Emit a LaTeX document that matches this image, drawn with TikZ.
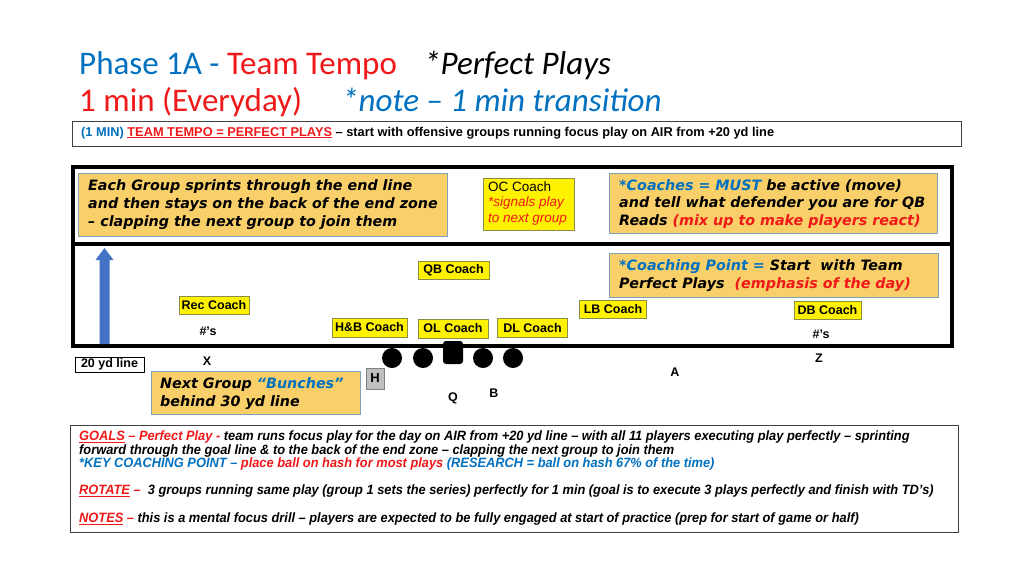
\documentclass[tikz,border=0pt]{standalone}
\usepackage{fontspec}
\setmainfont{Liberation Sans}
\newfontfamily\titlefont{Carlito}
\newfontfamily\heavyfont{DejaVu Sans}
\newfontfamily\narrowfont{Liberation Sans}[FakeStretch=0.95]
\definecolor{tblue}{HTML}{0070C0}
\definecolor{tred}{HTML}{F01818}
\definecolor{orfill}{HTML}{F9CF6A}
\definecolor{orline}{HTML}{7BA3B5}
\definecolor{ylline}{HTML}{8C8C4A}
\definecolor{arblue}{HTML}{4472C4}
\definecolor{boxgrey}{HTML}{404040}
\begin{document}
\begin{tikzpicture}[x=1pt,y=-1pt,
  txt/.style={inner sep=0pt, anchor=base west},
  ttl/.style={txt, font=\titlefont\fontsize{33}{40}\selectfont},
  heavy/.style={txt, font=\heavyfont\bfseries\itshape\fontsize{14.3}{17}\selectfont},
  narrow/.style={txt, font=\narrowfont\bfseries\itshape\fontsize{13.5}{14}\selectfont},
  lbl/.style={inner sep=0pt, font=\bfseries\fontsize{12.5}{14}\selectfont},
  coach/.style={draw=ylline, fill=yellow, line width=0.8pt, inner sep=0pt, minimum height=18pt, font=\bfseries\fontsize{12.5}{14}\selectfont},
  orbox/.style={draw=orline, fill=orfill, line width=0.9pt, anchor=north west, inner sep=0pt},
  fieldbox/.style={draw=black, line width=4pt, anchor=north west, inner sep=0pt},
  infobox/.style={draw=boxgrey, line width=1pt, anchor=north west, inner sep=0pt},
  player/.style={circle, fill=black, minimum size=20pt, inner sep=0pt}]
\useasboundingbox[fill=white] (0,0) rectangle (1024,576);

% Title
\node[ttl] (t1a) at (79,74) {\color{tblue}Phase 1A - \color{tred}Team Tempo};
\node[ttl] (t1b) at (424,74) {\itshape *Perfect Plays};
\node[ttl] (t2a) at (79,111) {\color{tred}1 min (Everyday)};
\node[ttl] (t2b) at (342,111) {\color{tblue}\itshape *note – 1 min transition};

% info box
\node[infobox, minimum width=889pt, minimum height=25pt] (info) at (72,121) {};
\node[txt, font=\bfseries\fontsize{12.8}{14}\selectfont] (infotxt) at (81,136)
  {\textcolor{tblue}{(1 MIN)} \textcolor{tred}{\underline{TEAM TEMPO = PERFECT PLAYS}} – start with offensive groups running focus play on AIR from +20 yd line};

% end zone and field
\node[fieldbox, minimum width=879pt, minimum height=77pt] (endzone) at (71,165) {};
\node[fieldbox, minimum width=879pt, minimum height=102pt] (field) at (71,242) {};

% arrow
\fill[arblue] (99.5,344) -- (99.5,260) -- (95.5,260) -- (104.5,248) -- (113.5,260) -- (109.5,260) -- (109.5,344) -- cycle;

% orange box 1
\node[orbox, minimum width=369pt, minimum height=63pt] (ob1) at (78,173) {};
\node[heavy] (ob1a) at (88,190.5) {Each Group sprints through the end line};
\node[heavy] (ob1b) at (88,208.5) {and then stays on the back of the end zone};
\node[heavy] (ob1c) at (88,226.5) {– clapping the next group to join them};

% OC coach
\node[draw=ylline, fill=yellow, line width=0.8pt, anchor=north west, minimum width=91pt, minimum height=52pt, inner sep=0pt] (oc) at (483,178) {};
\node[txt, font=\fontsize{13.5}{15}\selectfont] (oc1) at (488,191) {OC Coach};
\node[txt, font=\itshape\fontsize{13.5}{15}\selectfont, text=tred] (oc2) at (488,206.5) {*signals play};
\node[txt, font=\itshape\fontsize{13.5}{15}\selectfont, text=tred] (oc3) at (488,222) {to next group};

% orange box 2
\node[orbox, minimum width=328pt, minimum height=60pt] (ob2) at (609,173) {};
\node[heavy] (ob2a) at (619,190) {\textcolor{tblue}{*Coaches = MUST} be active (move)};
\node[heavy] (ob2b) at (619,207.5) {and tell what defender you are for QB};
\node[heavy] (ob2c) at (619,225) {Reads \textcolor{tred}{(mix up to make players react)}};

% orange box 3
\node[orbox, minimum width=329pt, minimum height=44pt] (ob3) at (609,253) {};
\node[heavy] (ob3a) at (619,270) {\textcolor{tblue}{*Coaching Point =} Start\ \ with Team};
\node[heavy] (ob3b) at (619,288) {Perfect Plays\ \ \textcolor{tred}{(emphasis of the day)}};

% coaches
\node[coach, minimum width=71pt] (qb) at (453.5,270) {QB Coach};
\node[coach, minimum width=70pt] (rec) at (214,305) {Rec Coach};
\node[coach, minimum width=75pt, minimum height=19pt] (hb) at (369.5,327.5) {H\&B Coach};
\node[coach, minimum width=70pt, minimum height=19pt] (ol) at (453,328.5) {OL Coach};
\node[coach, minimum width=70pt, minimum height=19pt] (dl) at (532.5,328) {DL Coach};
\node[coach, minimum width=67pt] (lb) at (613,309.5) {LB Coach};
\node[coach, minimum width=67pt] (db) at (827.5,310.5) {DB Coach};

% labels
\node[lbl] (hashl) at (208,331) {\#’s};
\node[lbl] (hashr) at (821,334) {\#’s};
\node[lbl] (px) at (207,361) {X};
\node[lbl] (pq) at (453,398) {Q};
\node[lbl] (pb) at (494,393) {B};
\node[lbl] (pa) at (675,372) {A};
\node[lbl] (pz) at (819,358) {Z};

% line
\node[player] (p1) at (392,358) {};
\node[player] (p2) at (423,358) {};
\node[player] (p4) at (483,358) {};
\node[player] (p5) at (513,358) {};
\fill[black, rounded corners=3pt] (443,341) rectangle (463,364);
\node[draw=gray, fill=black!25, line width=0.8pt, minimum width=18pt, minimum height=21pt, inner sep=0pt, font=\bfseries\fontsize{13}{14}\selectfont] (ph) at (375,378.5) {H};

% 20 yd line
\node[draw=black, line width=0.9pt, fill=white, minimum width=69pt, minimum height=15pt, inner sep=0pt, font=\bfseries\fontsize{12.5}{14}\selectfont] (yd) at (109.5,364.5) {20 yd line};

% orange box 4
\node[orbox, minimum width=209pt, minimum height=43pt] (ob4) at (151,371) {};
\node[heavy] (ob4a) at (160,388) {Next Group \textcolor{tblue}{“Bunches”}};
\node[heavy] (ob4b) at (160,406) {behind 30 yd line};

% bottom box
\node[infobox, minimum width=888pt, minimum height=107pt] (goals) at (70,425) {};
\node[narrow] (g1) at (79,440.5) {\textcolor{tred}{\underline{GOALS} – Perfect Play -} team runs focus play for the day on AIR from +20 yd line – with all 11 players executing play perfectly – sprinting};
\node[narrow] (g2) at (79,454) {forward through the goal line \& to the back of the end zone – clapping the next group to join them};
\node[narrow] (g3) at (79,467.5) {\textcolor{tblue}{*KEY COACHING POINT –} \textcolor{tred}{place ball on hash for most plays} \textcolor{tblue}{(RESEARCH = ball on hash 67\% of the time)}};
\node[narrow] (g4) at (79,494.5) {\textcolor{tred}{\underline{ROTATE} –}\ \ 3 groups running same play (group 1 sets the series) perfectly for 1 min (goal is to execute 3 plays perfectly and finish with TD’s)};
\node[narrow] (g5) at (79,522.5) {\textcolor{tred}{\underline{NOTES} –} this is a mental focus drill – players are expected to be fully engaged at start of practice (prep for start of game or half)};
\end{tikzpicture}
\end{document}
